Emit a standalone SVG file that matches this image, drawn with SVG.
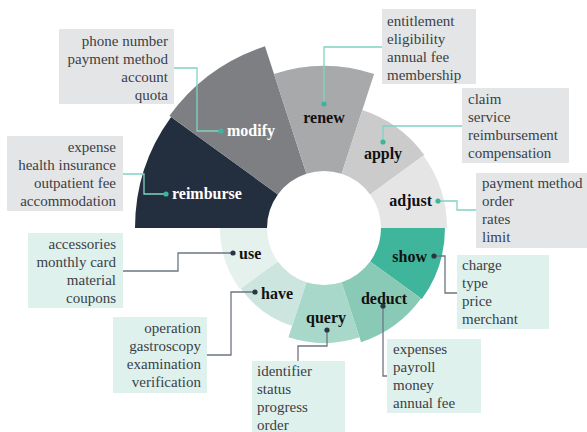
<svg xmlns="http://www.w3.org/2000/svg" width="587" height="432" viewBox="0 0 587 432">
<style>
text{font-family:"Liberation Serif","Tinos","Times New Roman","DejaVu Serif",serif}
.lbl{font-size:16px;font-weight:bold;fill:#111}
.lblw{font-size:16px;font-weight:bold;fill:#fff}
.txt{font-size:15px;fill:#3a3f48}
.r{text-anchor:end}
.m{text-anchor:middle}
.boxg{fill:#e4e5e6}
.boxm{fill:#dff1ec}
.lt{fill:none;stroke:#7fd4c1;stroke-width:1.3}
.lg{fill:none;stroke:#6e7681;stroke-width:1.3}
.dt{fill:#3db59c}
.dg{fill:#2b3445}
</style>
<rect width="587" height="432" fill="#fff"/>
<g id="reimburse">
<path d="M135,228 A189,189 0 0 1 171.10,116.91 L277.89,194.50 A57,57 0 0 0 267,228 Z" fill="#232f3e"/>
<text class="lblw" x="172" y="199">reimburse</text>
<rect class="boxg" x="7" y="136" width="116" height="75"/>
<text class="txt r" x="116" y="152">expense</text>
<text class="txt r" x="116" y="170">health insurance</text>
<text class="txt r" x="116" y="188">outpatient fee</text>
<text class="txt r" x="116" y="206">accommodation</text>
</g>
<g id="modify">
<path d="M169.48,115.73 A191,191 0 0 1 264.98,46.35 L306.39,173.79 A57,57 0 0 0 277.89,194.50 Z" fill="#7e7f83"/>
<text class="lblw" x="227" y="136">modify</text>
<rect class="boxg" x="59" y="29" width="115" height="75"/>
<text class="txt r" x="168" y="46">phone number</text>
<text class="txt r" x="168" y="64">payment method</text>
<text class="txt r" x="168" y="82">account</text>
<text class="txt r" x="168" y="100">quota</text>
</g>
<g id="renew">
<path d="M273.94,73.93 A162,162 0 0 1 374.06,73.93 L341.61,173.79 A57,57 0 0 0 306.39,173.79 Z" fill="#a8a9ab"/>
<text class="lbl m" x="324" y="123">renew</text>
<rect class="boxg" x="382" y="9" width="94" height="75"/>
<text class="txt" x="387" y="26">entitlement</text>
<text class="txt" x="387" y="44">eligibility</text>
<text class="txt" x="387" y="62">annual fee</text>
<text class="txt" x="387" y="80">membership</text>
</g>
<g id="apply">
<path d="M362.32,110.07 A124,124 0 0 1 424.32,155.12 L370.11,194.50 A57,57 0 0 0 341.61,173.79 Z" fill="#cbcbcc"/>
<text class="lbl m" x="383" y="159">apply</text>
<rect class="boxg" x="462" y="88" width="107" height="75"/>
<text class="txt" x="468" y="104">claim</text>
<text class="txt" x="468" y="122">service</text>
<text class="txt" x="468" y="140">reimbursement</text>
<text class="txt" x="468" y="158">compensation</text>
</g>
<g id="adjust">
<path d="M423.51,155.70 A123,123 0 0 1 447,228 L381,228 A57,57 0 0 0 370.11,194.50 Z" fill="#e5e5e6"/>
<text class="lbl r" x="432" y="206">adjust</text>
<rect class="boxg" x="476" y="173" width="111" height="75"/>
<text class="txt" x="482" y="188">payment method</text>
<text class="txt" x="482" y="206">order</text>
<text class="txt" x="482" y="224">rates</text>
<text class="txt" x="482" y="242">limit</text>
</g>
<g id="show">
<path d="M445,228 A121,121 0 0 1 421.89,299.12 L370.11,261.50 A57,57 0 0 0 381,228 Z" fill="#3fb59c"/>
<text class="lbl r" x="427" y="262">show</text>
<rect class="boxm" x="457" y="255" width="92" height="74"/>
<text class="txt" x="462" y="270">charge</text>
<text class="txt" x="462" y="288">type</text>
<text class="txt" x="462" y="306">price</text>
<text class="txt" x="462" y="324">merchant</text>
</g>
<g id="deduct">
<path d="M421.08,298.53 A120,120 0 0 1 361.08,342.13 L341.61,282.21 A57,57 0 0 0 370.11,261.50 Z" fill="#89cab7"/>
<text class="lbl m" x="384" y="304">deduct</text>
<rect class="boxm" x="387" y="339" width="94" height="74"/>
<text class="txt" x="393" y="354">expenses</text>
<text class="txt" x="393" y="372">payroll</text>
<text class="txt" x="393" y="390">money</text>
<text class="txt" x="393" y="408">annual fee</text>
</g>
<g id="query">
<path d="M359.54,337.37 A115,115 0 0 1 288.46,337.37 L306.39,282.21 A57,57 0 0 0 341.61,282.21 Z" fill="#a8d8c9"/>
<text class="lbl m" x="326" y="323">query</text>
<rect class="boxm" x="252" y="361" width="93" height="75"/>
<text class="txt" x="257" y="376">identifier</text>
<text class="txt" x="257" y="394">status</text>
<text class="txt" x="257" y="412">progress</text>
<text class="txt" x="257" y="430">order</text>
</g>
<g id="have">
<path d="M292.17,325.96 A103,103 0 0 1 240.67,288.54 L277.89,261.50 A57,57 0 0 0 306.39,282.21 Z" fill="#cce5de"/>
<text class="lbl" x="261" y="299">have</text>
<rect class="boxm" x="113" y="317" width="94" height="76"/>
<text class="txt r" x="201" y="333">operation</text>
<text class="txt r" x="201" y="351">gastroscopy</text>
<text class="txt r" x="201" y="369">examination</text>
<text class="txt r" x="201" y="387">verification</text>
</g>
<g id="use">
<path d="M239.86,289.13 A104,104 0 0 1 220,228 L267,228 A57,57 0 0 0 277.89,261.50 Z" fill="#e4f1ed"/>
<text class="lbl" x="239" y="259">use</text>
<rect class="boxm" x="28" y="233" width="95" height="75"/>
<text class="txt r" x="116" y="249">accessories</text>
<text class="txt r" x="116" y="267">monthly card</text>
<text class="txt r" x="116" y="285">material</text>
<text class="txt r" x="116" y="303">coupons</text>
</g>
<g id="connectors">
<path class="lt" d="M174,68 H197 V131 H221"/>
<path class="lt" d="M123,174 H144 V194 H166"/>
<path class="lt" d="M382,47 H324 V104"/>
<path class="lt" d="M462,126 H383 V142"/>
<path class="lt" d="M438,201 H457 V210 H476"/>
<path class="lg" d="M123,271 H178 V253 H233"/>
<path class="lg" d="M207,355 H231 V292 H255"/>
<path class="lg" d="M327,330 V346 H298 V361"/>
<path class="lg" d="M383,306 V376 H387"/>
<path class="lg" d="M434,256 H445 V293 H457"/>
<circle class="dt" cx="221" cy="131" r="2.6"/>
<circle class="dt" cx="166" cy="194" r="2.6"/>
<circle class="dt" cx="324" cy="104" r="2.6"/>
<circle class="dt" cx="383" cy="142" r="2.6"/>
<circle class="dt" cx="438" cy="201" r="2.6"/>
<circle class="dg" cx="233" cy="253" r="2.6"/>
<circle class="dg" cx="255" cy="292" r="2.6"/>
<circle class="dg" cx="327" cy="330" r="2.6"/>
<circle class="dg" cx="383" cy="306" r="2.6"/>
<circle class="dg" cx="434" cy="256" r="2.6"/>
</g>
</svg>
